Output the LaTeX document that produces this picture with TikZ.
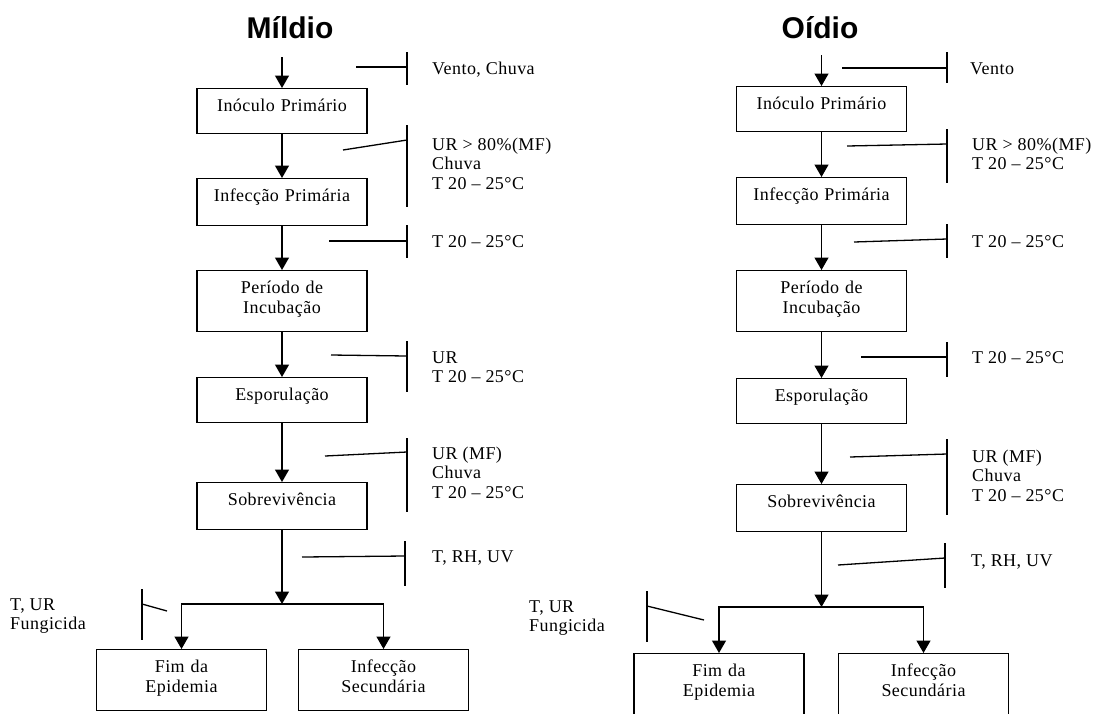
\documentclass[tikz,border=0pt]{standalone}
\usepackage{fontspec}
\setmainfont{Liberation Serif}[LetterSpace=2.5]
\newfontfamily\titlefont{Liberation Sans}
\usetikzlibrary{arrows.meta}
\newcommand\mlines[1]{\begin{tabular}[t]{@{}l@{}}#1\end{tabular}}
\newcommand\inhib[7]{%
  \coordinate (#1a) at (#2,#3);
  \coordinate (#1b) at (#4,#5);
  \coordinate (#1t) at (#4,#6);
  \coordinate (#1u) at (#4,#7);
  \draw[inh] (#1a) -- (#1b);
  \draw[inh] (#1t) -- (#1u);
}
\tikzset{
  txt/.style={font=\fontsize{18}{19.5}\selectfont},
  box/.style={txt, draw, line width=1.3pt, inner sep=0pt, text width=170pt,
    align=center, text height=23pt, anchor=north},
  lab/.style={txt, inner sep=0pt, anchor=base west},
  ttl/.style={font=\titlefont\bfseries\fontsize{30}{34}\selectfont, inner sep=0pt, anchor=base},
  flow/.style={line width=1.4pt, -{Triangle[width=14pt,length=12.5pt]}},
  inh/.style={line width=1.3pt},
}
\begin{document}
\begin{tikzpicture}[x=1pt,y=-1pt]
\useasboundingbox (0,0) rectangle (1097,713);
% ---------------- Mildio ----------------
\node[ttl] (tm) at (290,38) {Míldio};
\coordinate (ls) at (282,57);
\node[box, text depth=22pt] (l1) at (282,88) {Inóculo Primário};
\node[box, text depth=24pt] (l2) at (282,178) {Infecção Primária};
\node[box, text depth=38pt] (l3) at (282,270) {Período de\\Incubação};
\node[box, text depth=22pt] (l4) at (282,377) {Esporulação};
\node[box, text depth=24pt] (l5) at (282,482) {Sobrevivência};
\coordinate (lb) at (282,604);
\node[box, text depth=38pt] (l6) at (181.5,649) {Fim da\\Epidemia};
\node[box, text depth=38pt] (l7) at (383.5,649) {Infecção\\Secundária};
\draw[flow] (ls) -- (l1);
\draw[flow] (l1) -- (l2);
\draw[flow] (l2) -- (l3);
\draw[flow] (l3) -- (l4);
\draw[flow] (l4) -- (l5);
\draw[flow] (l5) -- (lb);
\draw[flow] (lb) -| (l6.north);
\draw[flow] (lb) -| (l7.north);
\inhib{i1}{356}{67}{407}{67}{52}{85}
\inhib{i2}{343}{150}{407}{140}{125}{207}
\inhib{i3}{329}{241}{407}{241}{225}{258}
\inhib{i4}{331}{355}{407}{356}{341}{392}
\inhib{i5}{325}{456}{407}{452}{438}{512}
\inhib{i6}{302}{557}{405}{556}{541}{586}
\inhib{i7}{167}{611}{142}{604}{589}{640}
\node[lab] (li1) at (432,74) {Vento, Chuva};
\node[lab] (li2) at (432,150) {\mlines{UR > 80\%(MF)\\Chuva\\T 20 – 25°C}};
\node[lab] (li3) at (432,247) {T 20 – 25°C};
\node[lab] (li4) at (432,363) {\mlines{UR\\T 20 – 25°C}};
\node[lab] (li5) at (432,459) {\mlines{UR (MF)\\Chuva\\T 20 – 25°C}};
\node[lab] (li6) at (432,562) {T, RH, UV};
\node[lab] (li7) at (10,610) {\mlines{T, UR\\Fungicida}};
% ---------------- Oidio ----------------
\node[ttl] (to) at (820,38) {Oídio};
\coordinate (rs) at (821.5,55);
\node[box, text depth=22pt] (r1) at (821.5,86) {Inóculo Primário};
\node[box, text depth=24pt] (r2) at (821.5,177) {Infecção Primária};
\node[box, text depth=38pt] (r3) at (821.5,270) {Período de\\Incubação};
\node[box, text depth=22pt] (r4) at (821.5,378) {Esporulação};
\node[box, text depth=24pt] (r5) at (821.5,484) {Sobrevivência};
\coordinate (rb) at (821.5,607);
\node[box, text depth=41pt] (r6) at (719,653) {Fim da\\Epidemia};
\node[box, text depth=41pt] (r7) at (923.5,653) {Infecção\\Secundária};
\draw[flow] (rs) -- (r1);
\draw[flow] (r1) -- (r2);
\draw[flow] (r2) -- (r3);
\draw[flow] (r3) -- (r4);
\draw[flow] (r4) -- (r5);
\draw[flow] (r5) -- (rb);
\draw[flow] (rb) -| (r6.north);
\draw[flow] (rb) -| (r7.north);
\inhib{j1}{842}{68}{947}{68}{52}{83}
\inhib{j2}{847}{146}{947}{144}{129}{183}
\inhib{j3}{854}{242}{947}{239}{224}{258}
\inhib{j4}{861}{357}{947}{357}{342}{377}
\inhib{j5}{850}{457}{947}{454}{439}{515}
\inhib{j6}{838}{565}{945}{558}{543}{588}
\inhib{j7}{704}{620}{647}{606}{591}{642}
\node[lab] (lj1) at (970,74) {Vento};
\node[lab] (lj2) at (972,150) {\mlines{UR > 80\%(MF)\\T 20 – 25°C}};
\node[lab] (lj3) at (972,247) {T 20 – 25°C};
\node[lab] (lj4) at (972,363) {T 20 – 25°C};
\node[lab] (lj5) at (972,462) {\mlines{UR (MF)\\Chuva\\T 20 – 25°C}};
\node[lab] (lj6) at (971,566) {T, RH, UV};
\node[lab] (lj7) at (529,612) {\mlines{T, UR\\Fungicida}};
\end{tikzpicture}
\end{document}
